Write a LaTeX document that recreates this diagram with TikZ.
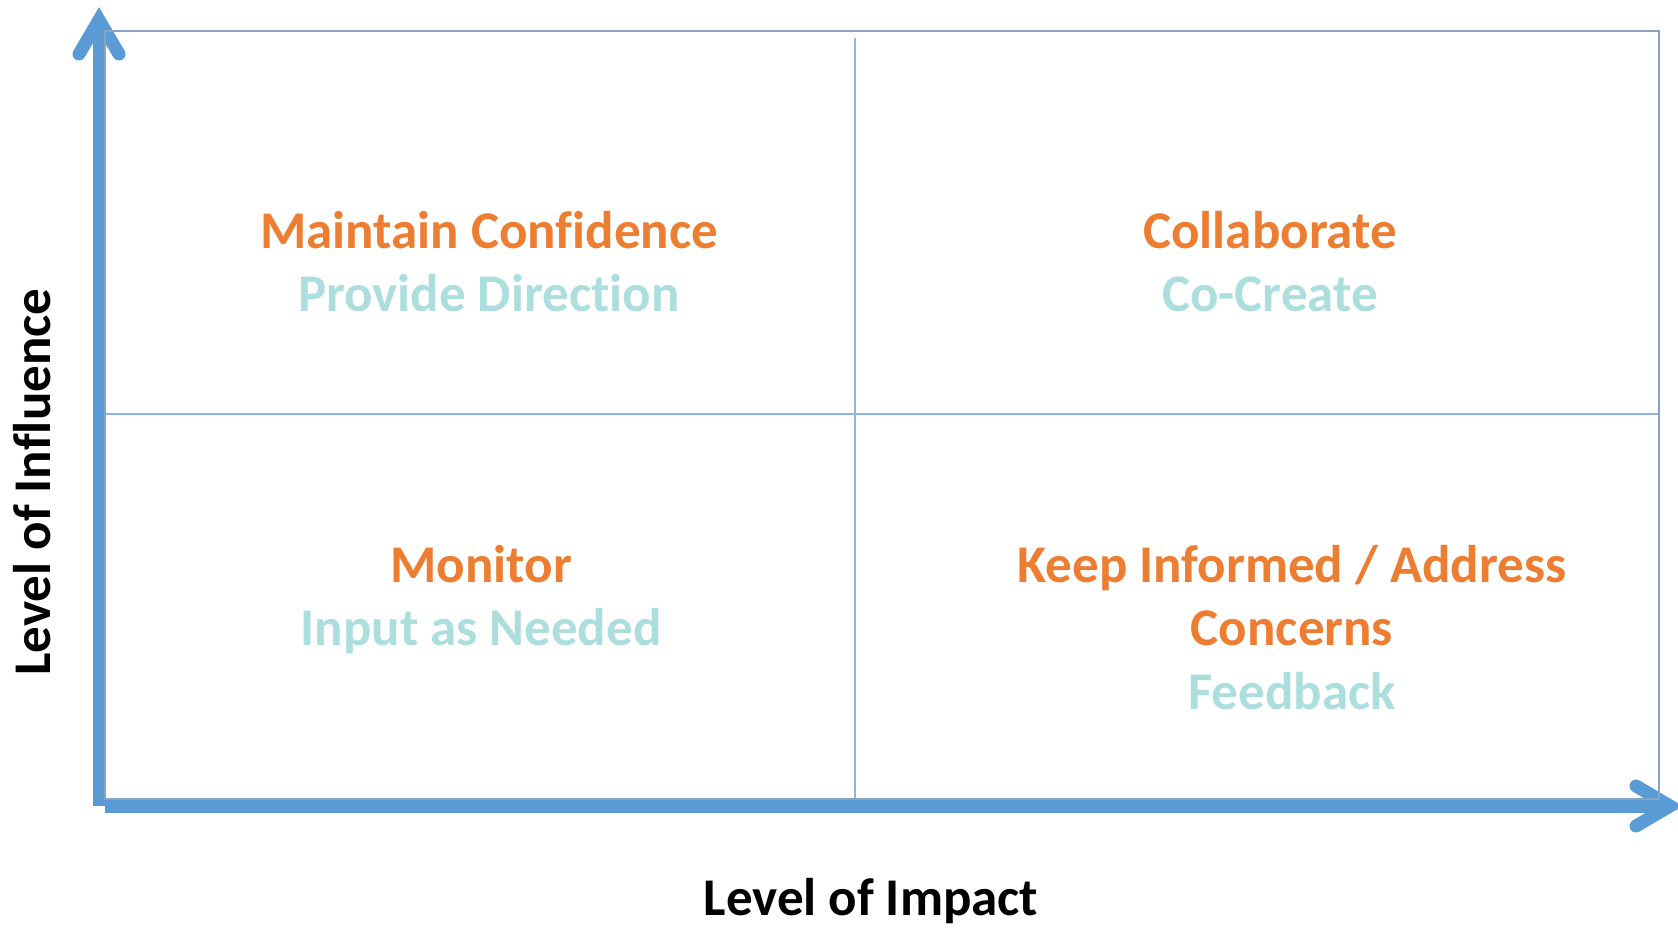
\documentclass[tikz,border=0pt]{standalone}
\usepackage{fontspec}
\setmainfont{Carlito}[Ligatures={NoCommon,NoRare,NoDiscretionary}]
\definecolor{axisblue}{RGB}{91,155,213}
\definecolor{boxline}{RGB}{135,163,195}
\definecolor{divline}{RGB}{143,181,226}
\definecolor{headorange}{RGB}{237,125,49}
\definecolor{subteal}{RGB}{172,222,222}
\tikzset{
  axisshaft/.style={draw=axisblue, line width=13pt, line cap=butt},
  axishead/.style={draw=axisblue, line width=13pt, line cap=round, line join=miter},
  frame/.style={draw=boxline, line width=1.5pt},
  divider/.style={draw=divline, line width=1.8pt},
  headtext/.style={text=headorange, font=\fontsize{53}{64}\selectfont\bfseries, anchor=base, inner sep=0pt},
  subtext/.style={text=subteal, font=\fontsize{53}{64}\selectfont\bfseries, anchor=base, inner sep=0pt},
  axislabel/.style={text=black, font=\fontsize{53}{64}\selectfont\bfseries, anchor=base, inner sep=0pt}
}
\begin{document}
\begin{tikzpicture}[x=1pt,y=-1pt]
\useasboundingbox (0,0) rectangle (1678,933);
% axes
\coordinate (ybot) at (99,806);
\coordinate (ytip) at (99,20);
\coordinate (yl) at (79,54);
\coordinate (yr) at (119,54);
\coordinate (xstart) at (105,806);
\coordinate (xtip) at (1670,806);
\coordinate (xu) at (1636,786);
\coordinate (xd) at (1636,826);
\draw[axisshaft] (ybot) -- (ytip);
\draw[axishead] (yl) -- (ytip) -- (yr);
\draw[axisshaft] (xstart) -- (xtip);
\draw[axishead] (xu) -- (xtip) -- (xd);
% frame and dividers
\coordinate (tl) at (105,31);
\coordinate (br) at (1659,799);
\coordinate (vtop) at (855,38);
\coordinate (vbot) at (855,799);
\coordinate (hl) at (105,414);
\coordinate (hr) at (1659,414);
\draw[divider] (vtop) -- (vbot);
\draw[divider] (hl) -- (hr);
\draw[frame] (tl) rectangle (br);
% quadrant texts
\node[headtext] (maintain) at (489,249) {Maintain Confidence};
\node[subtext] (direction) at (489,312) {Provide Direction};
\node[headtext] (collab) at (1270,249) {Collaborate};
\node[subtext] (cocreate) at (1270,312) {Co-Create};
\node[headtext] (monitor) at (481,582) {Monitor};
\node[subtext] (input) at (481,645) {Input as Needed};
\node[headtext] (keep) at (1292,582) {Keep Informed / Address};
\node[headtext] (concerns) at (1292,645) {Concerns};
\node[subtext] (feedback) at (1292,709) {Feedback};
% axis labels
\node[axislabel] (impact) at (871,915) {Level of Impact};
\node[axislabel, rotate=90] (influence) at (50,482) {Level of Influence};
\end{tikzpicture}
\end{document}
